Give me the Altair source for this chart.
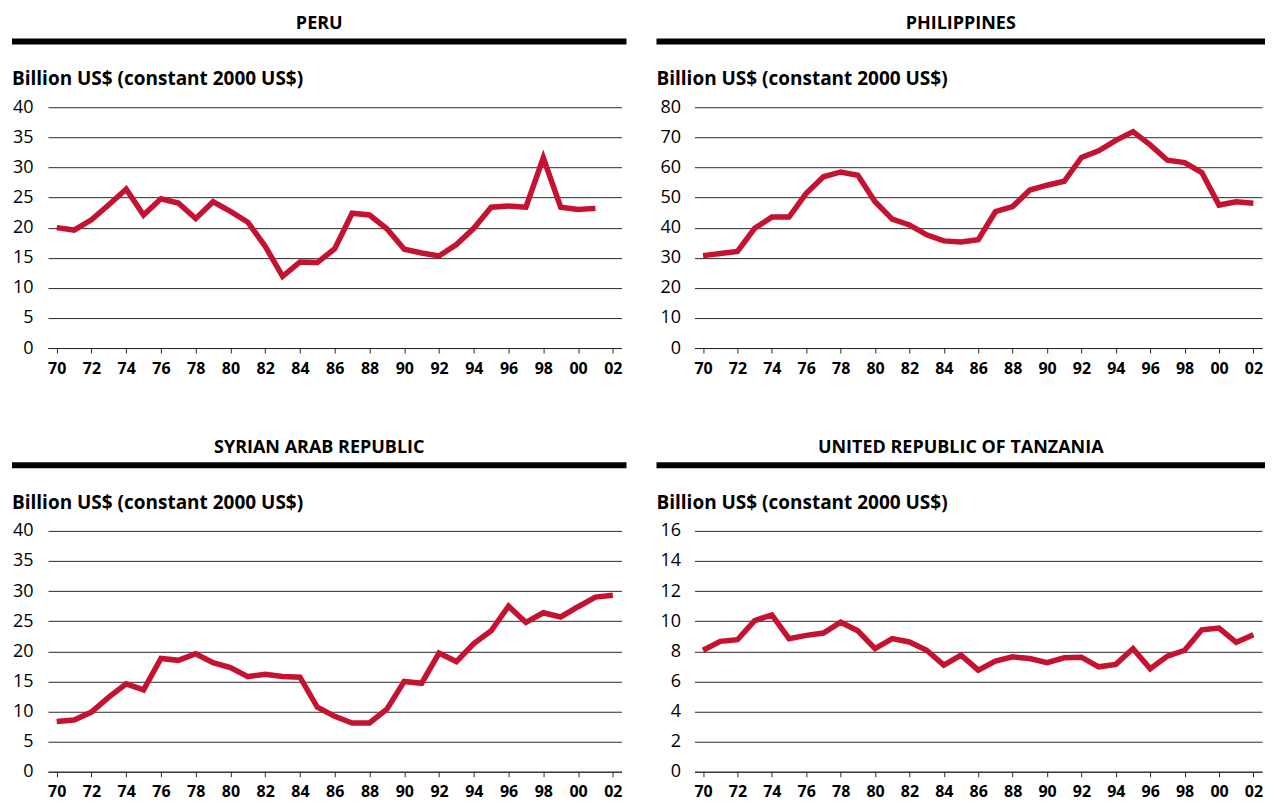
import altair as alt
import pandas as pd

FONT = "Open Sans"
RED = "#C41230"
GRID = "#2a2a2a"

YEARS = list(range(1970, 2003))
X_TICKS = list(range(1970, 2003, 2))

PERU = [20.0, 19.6, 21.3, 23.8, 26.4, 22.1, 24.8, 24.1, 21.5, 24.3, 22.7, 20.9,
        16.9, 11.9, 14.3, 14.2, 16.5, 22.4, 22.1, 19.8, 16.4, 15.8, 15.3, 17.2,
        19.9, 23.4, 23.6, 23.4, 31.6, 23.4, 23.0, 23.2]
PHILIPPINES = [30.7, 31.4, 32.1, 39.8, 43.5, 43.5, 51.4, 56.9, 58.5, 57.4, 48.6,
               42.8, 40.9, 37.6, 35.6, 35.2, 36.0, 45.3, 47.0, 52.5, 54.1, 55.4,
               63.3, 65.5, 69.0, 71.9, 67.5, 62.4, 61.6, 58.3, 47.5, 48.6, 48.1]
SYRIA = [8.35, 8.6, 9.9, 12.4, 14.6, 13.6, 18.8, 18.5, 19.6, 18.1, 17.3, 15.8,
         16.2, 15.8, 15.7, 10.7, 9.2, 8.1, 8.1, 10.4, 15.0, 14.7, 19.7, 18.3,
         21.3, 23.4, 27.5, 24.8, 26.4, 25.7, 27.4, 29.0, 29.3]
TANZANIA = [8.07, 8.66, 8.77, 10.04, 10.42, 8.84, 9.06, 9.21, 9.93, 9.36, 8.18,
            8.84, 8.62, 8.07, 7.08, 7.74, 6.75, 7.35, 7.63, 7.52, 7.24, 7.57,
            7.61, 6.97, 7.13, 8.18, 6.84, 7.68, 8.07, 9.43, 9.54, 8.60, 9.10]

TITLES = ["PERU", "PHILIPPINES", "SYRIAN ARAB REPUBLIC", "UNITED REPUBLIC OF TANZANIA"]
SUBTITLE = "Billion US$ (constant 2000 US$)"

H = 241


def panel(title, values, ymax, ystep, W, left_off, right_off, label_pad):
    df = pd.DataFrame({"year": YEARS[:len(values)], "value": values})
    line = alt.Chart(df).mark_line(color=RED, strokeWidth=5.5).encode(
        x=alt.X("year:Q",
                scale=alt.Scale(domain=[1969.5, 2002.5], nice=False, zero=False),
                axis=alt.Axis(values=X_TICKS, format="d",
                              labelExpr="substring(datum.label, 2)",
                              title=None, grid=False, domain=True,
                              domainColor=GRID, domainWidth=1,
                              ticks=True, tickSize=5, tickColor=GRID,
                              labelFont=FONT, labelFontSize=16,
                              labelFontWeight="bold", labelColor="black",
                              labelPadding=7, labelOverlap=False,
                              labelFlush=False)),
        y=alt.Y("value:Q",
                scale=alt.Scale(domain=[0, ymax], nice=False),
                axis=alt.Axis(values=list(range(0, ymax + 1, ystep)),
                              title=None, grid=True, gridColor=GRID,
                              gridWidth=1, domain=False, ticks=False,
                              labelFont=FONT, labelFontSize=18,
                              labelColor="black", labelPadding=label_pad)),
    )
    hdr = pd.DataFrame({"t": [title], "s": [SUBTITLE]})
    center = (left_off + W + right_off) / 2
    ttl = alt.Chart(hdr).mark_text(
        font=FONT, fontSize=18, fontWeight="bold", align="center",
        baseline="alphabetic", color="black"
    ).encode(text="t:N", x=alt.value(center), y=alt.value(-78))
    bar = alt.Chart(hdr).mark_rect(color="black").encode(
        x=alt.value(left_off), x2=alt.value(W + right_off),
        y=alt.value(-68.7), y2=alt.value(-62.7))
    sub = alt.Chart(hdr).mark_text(
        font=FONT, fontSize=19, fontWeight="bold", align="left",
        baseline="alphabetic", color="black"
    ).encode(text="s:N", x=alt.value(left_off), y=alt.value(-22))
    return alt.layer(line, bar, ttl, sub).properties(width=W, height=H)


p1 = panel(TITLES[0], PERU, 40, 5, 574, -36, 5, 15)
p2 = panel(TITLES[1], PHILIPPINES, 80, 10, 568, -38, 3, 14)
p3 = panel(TITLES[2], SYRIA, 40, 5, 574, -36, 5, 15)
p4 = panel(TITLES[3], TANZANIA, 16, 2, 568, -38, 3, 14)

chart = alt.ConcatChart(
    concat=[p1, p2, p3, p4], columns=2,
    spacing=alt.RowColnumber(row=183, column=73), bounds="flush"
).properties(
    padding={"left": 3, "top": 6, "right": 0, "bottom": 0}
).configure_view(stroke="transparent")

chart.save("out.html", embed_options={"renderer": "svg", "actions": False})
